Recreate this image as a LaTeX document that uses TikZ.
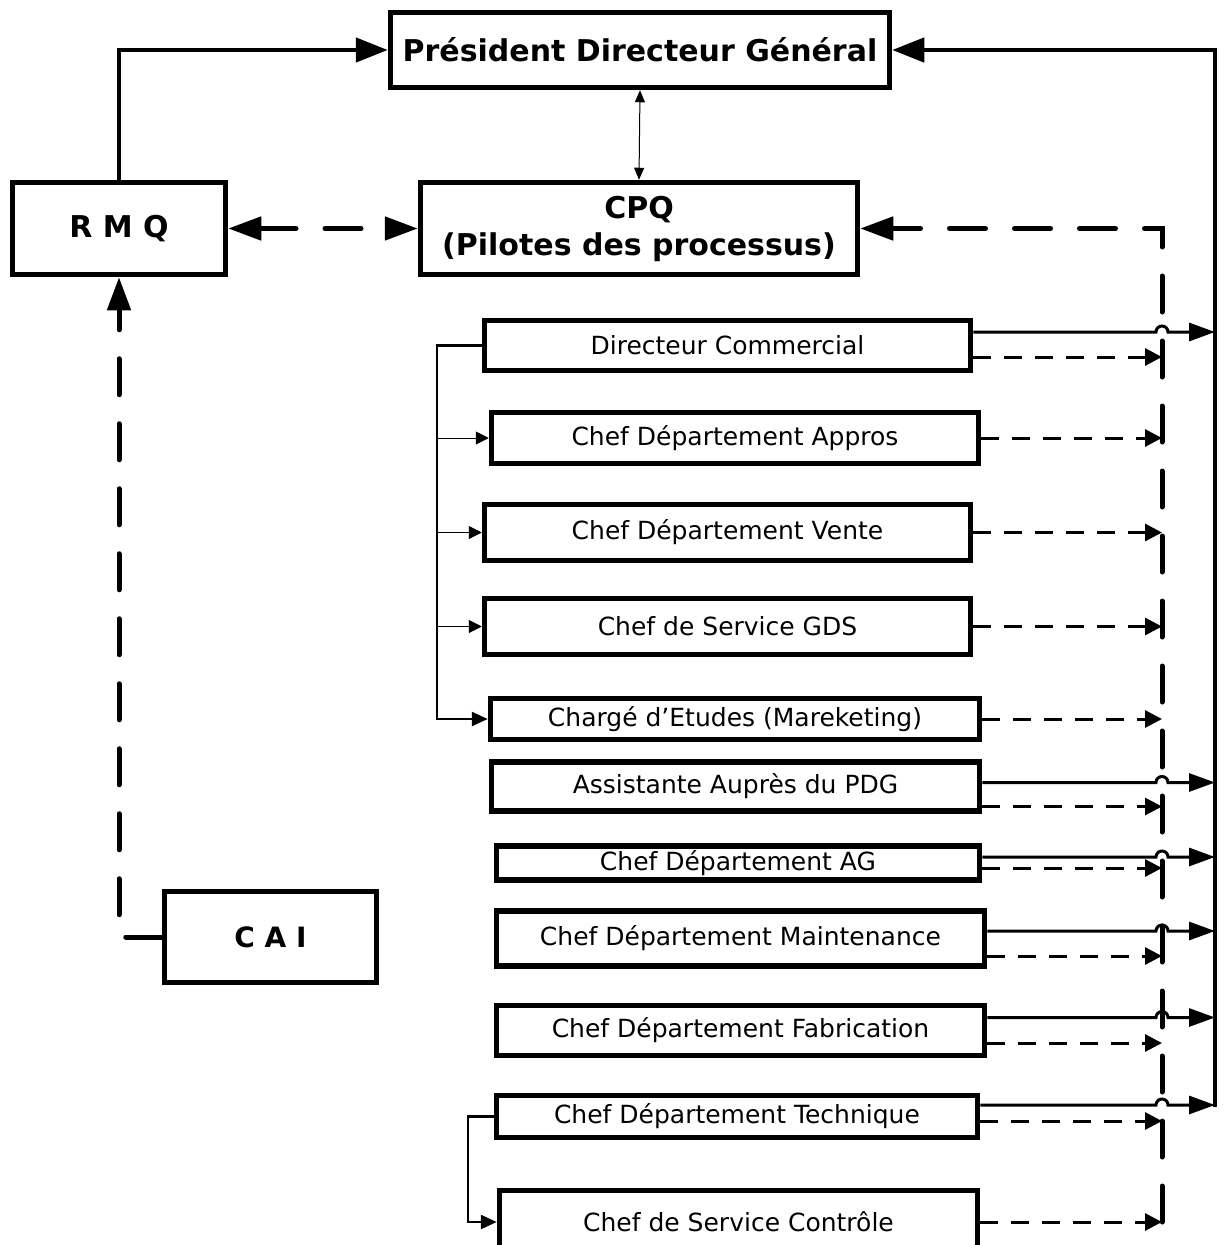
\documentclass[tikz,border=0pt]{standalone}
\usepackage{fontspec}
\setmainfont{DejaVu Sans}
\usetikzlibrary{arrows.meta,calc}

\begin{document}
\begin{tikzpicture}[x=1pt,y=-1pt,
  orgbox/.style = {draw, line width=5.5pt, inner sep=0pt,
    font=\fontsize{25}{30}\selectfont},
  headbox/.style = {orgbox, align=center,
    font=\fontsize{30}{37}\selectfont\bfseries},
  mainlink/.style = {line width=4.5pt, -{Triangle[length=32pt,width=24pt]}},
  link/.style = {line width=3pt, -{Triangle[length=26pt,width=18pt]}},
  dashlink/.style = {line width=3pt, dash pattern=on 18pt off 13pt,
    -{Triangle[length=17pt,width=17pt]}},
  bigdash/.style = {line width=5pt, line cap=round, dash pattern=on 36pt off 29pt},
  bracket/.style = {line width=2.5pt, -{Triangle[length=16pt,width=14pt]}},
  branch/.style = {line width=1pt, -{Triangle[length=13pt,width=13pt]}}]
  \useasboundingbox (0,0) rectangle (1227,1245);

  % direction
  \node[headbox, minimum width=499pt, minimum height=75pt] (pdg) at (640,50) {Président Directeur Général};
  \node[headbox, minimum width=437pt, minimum height=92pt] (cpq) at (639,228.5) {CPQ\\(Pilotes des processus)};
  \node[headbox, minimum width=213pt, minimum height=92pt] (rmq) at (119,228.5) {R M Q};
  \node[headbox, font=\fontsize{28}{34}\selectfont\bfseries,
    minimum width=212pt, minimum height=91pt] (cai) at (270.5,937) {C A I};

  % responsables
  \node[orgbox, minimum width=486pt, minimum height=50pt] (dcom) at (727.5,345.5) {Directeur Commercial};
  \node[orgbox, minimum width=487pt, minimum height=51pt] (appros) at (735,438) {Chef Département Appros};
  \node[orgbox, minimum width=486pt, minimum height=56pt] (vente) at (727.5,532.5) {Chef Département Vente};
  \node[orgbox, minimum width=486pt, minimum height=56pt] (gds) at (727.5,626.5) {Chef de Service GDS};
  \node[orgbox, minimum width=489pt, minimum height=41pt] (etudes) at (735,719) {Chargé d’Etudes (Mareketing)};
  \node[orgbox, minimum width=488pt, minimum height=49pt] (assist) at (735.5,786.5) {Assistante Auprès du PDG};
  \node[orgbox, minimum width=483pt, minimum height=34pt] (ag) at (738,863) {Chef Département AG};
  \node[orgbox, minimum width=488pt, minimum height=55pt] (maint) at (740.5,938.5) {Chef Département Maintenance};
  \node[orgbox, minimum width=488pt, minimum height=50pt] (fabr) at (740.5,1030.5) {Chef Département Fabrication};
  \node[orgbox, minimum width=481pt, minimum height=42pt] (techn) at (737,1116.5) {Chef Département Technique};
  \node[orgbox, minimum width=478pt, minimum height=63pt] (ctrl) at (738.5,1222) {Chef de Service Contrôle};

  \coordinate (busend) at (1215,1107);
  \coordinate (dbusend) at (1162,1222);
  \coordinate (rail) at (437,345.5);

  % liaisons hierarchiques
  \draw[mainlink] (rmq.north) |- (pdg.west);
  \draw[mainlink] (busend) |- (pdg.east);
  \draw[line width=1pt, {Triangle[length=12pt,width=10pt]}-{Triangle[length=12pt,width=10pt]}] (pdg.south) -- (cpq.north);

  % liaisons fonctionnelles
  \draw[bigdash, {Triangle[length=33pt,width=23pt]}-{Triangle[length=33pt,width=23pt]}] (rmq.east) -- (cpq.west);
  \draw[bigdash, -{Triangle[length=33pt,width=23pt]}] (dbusend) |- (cpq.east);
  \draw[bigdash, -{Triangle[length=33pt,width=23pt]}] (cai.west) -| (rmq.south);

  \draw[bracket] (dcom.west) -- (dcom.west -| rail) |- (etudes.west);
  \foreach \b in {appros,vente,gds}
    \draw[branch] (\b.west -| rail) -- (\b.west);
  \draw[bracket] (techn.west) -- ++(-26,0) |- (ctrl.west);

  \foreach \b/\dy in {dcom/-11.5,appros/0,vente/0,gds/0,etudes/0,assist/-20,ag/-5,maint/-17.5,fabr/-12.5,techn/-4.5,ctrl/0}
    \draw[dashlink] ([yshift=\dy pt]\b.east) coordinate (s) -- (s -| dbusend);

  \foreach \b/\dy in {dcom/13.5,assist/4,ag/6,maint/7.5,fabr/13,techn/11.5}
    \draw[link] ([yshift=\dy pt]\b.east) coordinate (s) -- ($(s -| dbusend)+(-6,0)$)
      arc[start angle=180,end angle=0,radius=6pt] -- (s -| busend);
\end{tikzpicture}
\end{document}
